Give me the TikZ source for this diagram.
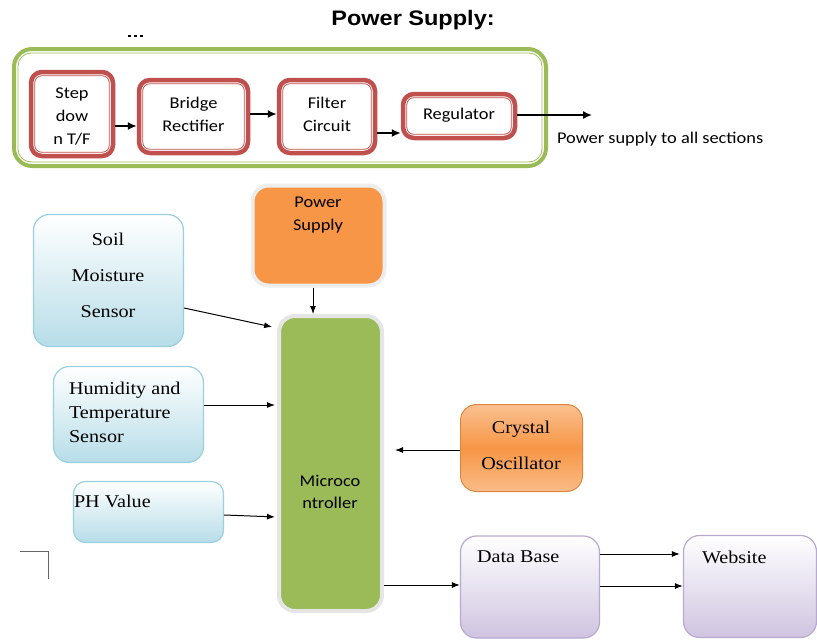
\documentclass[tikz,border=0pt]{standalone}
\usepackage{fontspec}
\setmainfont[FakeStretch=1.12]{Liberation Serif}
\newfontfamily\calf[FakeStretch=1.12]{Carlito}
\newfontfamily\arialf[FakeStretch=1.12]{Liberation Sans}
\usetikzlibrary{arrows.meta,calc}
\definecolor{grc}{HTML}{9BBB59}
\definecolor{redc}{HTML}{C0504D}
\definecolor{orc}{HTML}{F79646}
\definecolor{orl}{HTML}{FAC090}
\definecolor{blb}{HTML}{B7DDE8}
\definecolor{bld}{HTML}{9ACFDF}
\definecolor{lvb}{HTML}{CFC4E0}
\definecolor{lvd}{HTML}{B8A9D0}
\begin{document}
\begin{tikzpicture}[x=1pt,y=-1pt,
  redbox/.style={draw=redc,line width=4.5,rounded corners=11,fill=white,inner sep=0},
  txt/.style={inner sep=0,outer sep=0},
  caltxt/.style={txt,font=\calf\fontsize{16.4}{23}\selectfont,align=center},
  sertxt/.style={txt,font=\fontsize{18}{24}\selectfont},
  bluebox/.style={draw=bld,line width=1.2,rounded corners=16,top color=white,bottom color=blb,inner sep=0},
  lavbox/.style={draw=lvd,line width=1.2,rounded corners=16,top color=white,bottom color=lvb,inner sep=0},
  tarr/.style={-{Latex[length=9,width=8]},line width=1.6},
  barr/.style={-{Latex[length=8,width=6]},line width=1}]
\useasboundingbox (0,0) rectangle (817,640);
% title
\node[txt,font=\arialf\bfseries\fontsize{21}{24}\selectfont] (title) at (413,20) {Power Supply:};
\foreach \xx in {128,134,140}{\draw[line width=1.2] (\xx,36) -- (\xx+3,36);}
% outer green box
\node[draw=grc,line width=4,rounded corners=18,minimum width=532,minimum height=117,inner sep=0] (psbox) at (280,107.5) {};
\draw[grc,line width=0.8,rounded corners=13] (18,53) rectangle (542,162);
% red boxes
\node[redbox,minimum width=82,minimum height=84] (step) at (72,114) {};
\node[redbox,minimum width=109,minimum height=73] (bridge) at (193.5,116.5) {};
\node[redbox,minimum width=96,minimum height=73] (filter) at (327,116.5) {};
\node[redbox,minimum width=112,minimum height=44] (reg) at (459,116) {};
\foreach \n in {step,bridge,filter,reg}{
  \draw[redc,line width=0.8,rounded corners=7] ([shift={(6,6)}]\n.north west) rectangle ([shift={(-6,-6)}]\n.south east);}
\node[caltxt] (tstep) at (72,117) {Step\\dow\\n T/F};
\node[caltxt] (tbridge) at (193.5,114.5) {Bridge\\Rectifier};
\node[caltxt] (tfilter) at (327,114.5) {Filter\\Circuit};
\node[caltxt] (treg) at (459,115) {Regulator};
\coordinate (psend) at (592,115);
\node[caltxt,anchor=west] (tall) at (557,139) {Power supply to all sections};
\draw[tarr] (step.east |- 0,126) -- (bridge.west |- 0,126);
\draw[tarr] (bridge.east |- 0,114) -- (filter.west |- 0,114);
\draw[tarr] (filter.east |- 0,133) -- (reg.west |- 0,133);
\draw[tarr] (reg.east |- 0,115) -- (psend);
% lower part
\node[draw=black!7,line width=4,rounded corners=16,fill=orc,minimum width=132,minimum height=100,inner sep=0] (ps) at (318.5,235.5) {};
\node[caltxt] (tps) at (318,215.5) {Power\\Supply};
\node[draw=black!10,line width=4,rounded corners=16,fill=grc,minimum width=103,minimum height=295,inner sep=0] (micro) at (330.5,463.5) {};
\node[caltxt,font=\calf\fontsize{16.4}{22}\selectfont] (tmicro) at (330,492) {Microco\\ntroller};
\node[bluebox,minimum width=150,minimum height=132] (soil) at (108.5,280.5) {};
\node[sertxt,align=center,font=\fontsize{18}{36}\selectfont] (tsoil) at (108,275) {Soil\\Moisture\\Sensor};
\node[bluebox,minimum width=150,minimum height=96] (hum) at (128.5,414.5) {};
\node[sertxt,align=left,anchor=west] (thum) at (69,412) {Humidity and\\Temperature\\Sensor};
\node[bluebox,rounded corners=12,minimum width=150,minimum height=61] (ph) at (148.5,512) {};
\node[sertxt,anchor=west] (tph) at (74,501) {PH Value};
\node[draw=orc!90!black,line width=1,rounded corners=16,top color=orl,bottom color=orl!90!orc,middle color=orc,inner sep=0,minimum width=122,minimum height=87] (xtal) at (521.5,448) {};
\node[sertxt,align=center,font=\fontsize{18}{36}\selectfont] (txtal) at (521,445) {Crystal\\Oscillator};
\node[lavbox,minimum width=139,minimum height=102] (db) at (530,587) {};
\node[sertxt,anchor=west] (tdb) at (477,557) {Data Base};
\node[lavbox,minimum width=133,minimum height=102] (web) at (750,586.5) {};
\node[sertxt,anchor=west] (tweb) at (702,557) {Website};
% connectors
\draw[barr] (ps.south -| 313,0) -- (micro.north -| 313,0);
\draw[barr,shorten >=5] (soil.east |- 0,308) -- (micro.west |- 0,328);
\draw[barr,shorten >=2] (hum.east |- 0,405) -- (micro.west |- 0,405);
\draw[barr,shorten >=2] (ph.east |- 0,515) -- (micro.west |- 0,517);
\draw[barr,shorten >=11] (xtal.west |- 0,450) -- (micro.east |- 0,450);
\draw[barr] (micro.east |- 0,585) -- (db.west |- 0,585);
\draw[barr,shorten >=3] (db.east |- 0,554) -- (web.west |- 0,554);
\draw[barr] (db.east |- 0,586) -- (web.west |- 0,586);
% stray corner mark
\draw[black!60,line width=0.8] (20,551) -- (48,551) -- (48,579);
\end{tikzpicture}
\end{document}
